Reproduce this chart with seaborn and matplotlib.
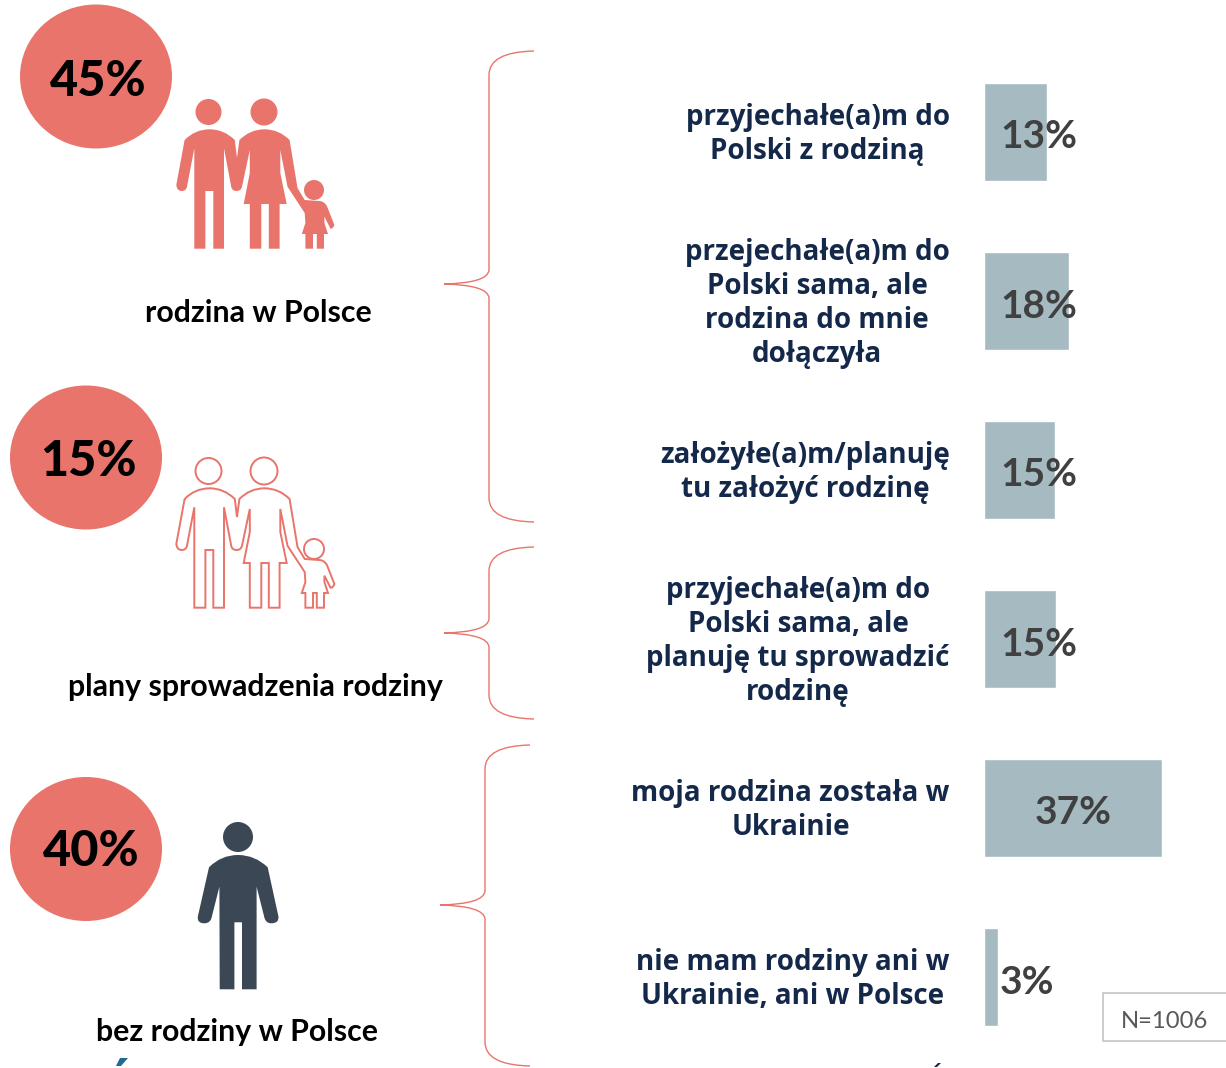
import seaborn as sns
import pandas as pd
from matplotlib import pyplot as plt
from matplotlib.patches import Ellipse, PathPatch, Rectangle, Polygon
from matplotlib.path import Path
from matplotlib.transforms import ScaledTranslation

answers = [
    "przyjechałe(a)m do\nPolski z rodziną",
    "przejechałe(a)m do\nPolski sama, ale\nrodzina do mnie\ndołączyła",
    "założyłe(a)m/planuję\ntu założyć rodzinę",
    "przyjechałe(a)m do\nPolski sama, ale\nplanuję tu sprowadzić\nrodzinę",
    "moja rodzina została w\nUkrainie",
    "nie mam rodziny ani w\nUkrainie, ani w Polsce",
]
bar_values = [13, 17.6, 14.7, 14.9, 37, 2.8]
bar_labels = ["13%", "18%", "15%", "15%", "37%", "3%"]
group_shares = ["45%", "15%", "40%"]
group_names = ["rodzina w Polsce", "plany sprowadzenia rodziny", "bez rodziny w Polsce"]
sample_note = "N=1006"

W, H = 1226, 1068
CORAL = "#e9746b"
FONT = "Lato"
LABEL_FONT = "Open Sans"

# outline of the family icon, pixels of the filled one; "c" marks a curved segment
family = [
    (184.6, 140), (176.3, 185), "c", (177, 191), (181.7, 191), "c", (186, 191), (187, 186.7),
    (194.3, 148.3), (194.3, 248.7), (205.4, 248.7), (205.4, 191), (213.3, 191),
    (213.3, 248.7), (224, 248.7), (224, 148.3), (231.2, 186.7), "c", (232, 191), (236.6, 191),
    "c", (241, 191), (242, 186.7), (249.8, 150), (249.8, 173), (243.7, 204), (249.8, 204),
    (249.8, 248.7), (261.3, 248.7), (261.3, 204), (268.8, 204), (268.8, 248.7),
    (279.6, 248.7), (279.6, 204), (286.7, 204), (280.3, 173), (280.3, 150), (287.5, 186.7),
    (304.7, 213), (305.4, 223), (301.8, 234), (305.4, 234), (305.4, 248.7), (313, 248.7),
    (313, 234), (316.8, 234), (316.8, 248.7), (324, 248.7), (324, 234), (328, 234),
    (324.4, 223), (324.4, 216.7), (330.5, 228.7), "c", (333, 229), (334.4, 225), (326.9, 206),
    "c", (324, 201), (319, 201), (304.7, 200), (297.5, 188), (289.6, 140),
    "c", (279, 129.3), (264.5, 129.3), "c", (250, 129.3), (239.4, 140), (237, 158), (234.8, 140),
    "c", (224, 129.3), (209.7, 129.3), "c", (195, 129.3), (184.6, 140),
]
family_heads = [(208.5, 112, 13), (264, 112, 13.5), (314, 190, 10)]

single = [
    (209, 867.3), (197.8, 916.7), "c", (197, 923.3), (204.3, 923.3), "c", (210, 923.3), (211.5, 918),
    (219.4, 886.7), (219.7, 989.3), (234.4, 989.3), (234.4, 922.3), (242, 922.3), (242, 989.3),
    (256.6, 989.3), (256.6, 886.7), (264.5, 918), "c", (266, 923.3), (271.3, 923.3),
    "c", (279, 923.3), (278.5, 916.7), (267.7, 867.3), "c", (255, 855), (238, 855),
    "c", (221, 855), (209, 867.3),
]


def icon_path(points, dy=0):
    verts, codes = [], []
    curve_next = False
    for p in points:
        if p == "c":
            curve_next = True
            continue
        verts.append((p[0], p[1] + dy))
        if not codes:
            codes.append(Path.MOVETO)
        elif curve_next or trailing_curves(codes) % 2 == 1:
            codes.append(Path.CURVE3)
            curve_next = False
        else:
            codes.append(Path.LINETO)
    return Path(verts, codes)


def trailing_curves(codes):
    n = 0
    for c in reversed(codes):
        if c != Path.CURVE3:
            break
        n += 1
    return n


def brace_path(x, top, mid, bottom, tip_x, end_x):
    return Path(
        [(end_x, top), (x, top + 1), (x, top + 24), (x, mid - 14), (x - 1, mid - 1), (tip_x, mid),
         (x - 1, mid + 1), (x, mid + 14), (x, bottom - 24), (x, bottom - 1), (end_x, bottom)],
        [Path.MOVETO, Path.CURVE3, Path.CURVE3, Path.LINETO, Path.CURVE3, Path.CURVE3,
         Path.CURVE3, Path.CURVE3, Path.LINETO, Path.CURVE3, Path.CURVE3],
    )


def main():
    sns.set_theme(style="white")
    plt.rcParams["font.family"] = [FONT, "DejaVu Sans"]

    fig = plt.figure(figsize=(W / 100, H / 100), dpi=100, facecolor="white")

    # bars: one category every 169 px, zero at x=985, 4.78 px per percent
    ax = fig.add_axes([984.5 / W, 1 - 1061.5 / H, 239.5 / W, (1062 - 48) / H])
    df = pd.DataFrame({"answer": answers, "value": bar_values})
    sns.barplot(data=df, y="answer", x="value", color="#a6bac2", saturation=1, width=0.574, ax=ax)
    ax.set_xlim(0, 50)
    ax.set_ylim(5.5, -0.5)
    ax.set_xlabel("")
    ax.set_ylabel("")
    ax.xaxis.set_visible(False)
    ax.tick_params(axis="y", length=0, pad=25)
    lift = ScaledTranslation(0, 0.035, fig.dpi_scale_trans)
    for label in ax.get_yticklabels():
        label.set_multialignment("center")
        label.set_family([LABEL_FONT, "DejaVu Sans"])
        label.set_fontsize(20)
        label.set_fontweight("bold")
        label.set_color("#14284a")
        label.set_linespacing(1.23)
        label.set_transform(label.get_transform() + lift)
    sns.despine(ax=ax, left=True, bottom=True)

    # overlay in image pixels for the icons, braces and free text
    over = fig.add_axes([0, 0, 1, 1], zorder=5)
    over.set_xlim(0, W)
    over.set_ylim(H, 0)
    over.axis("off")
    over.patch.set_alpha(0)

    label_x = [1039, 1039, 1039, 1039, 1073, 1027]
    label_y = [137, 306, 475, 644, 813, 982]
    for text, x, y in zip(bar_labels, label_x, label_y):
        over.text(x, y, text, ha="center", va="center", fontsize=28, fontweight="bold", color="#404040")

    circles = [(96, 76.5), (86, 457.5), (86, 849)]
    share_pos = [(98, 81), (88, 461), (91, 852)]
    for (cx, cy), (tx, ty), text in zip(circles, share_pos, group_shares):
        over.add_patch(Ellipse((cx, cy), 152, 144, color=CORAL, lw=0))
        over.text(tx, ty, text, ha="center", va="center", fontsize=35, fontweight="black", color="black")

    name_pos = [(258, 313), (255, 687), (237, 1032)]
    for (x, y), text in zip(name_pos, group_names):
        over.text(x, y, text, ha="center", va="center", fontsize=21.8, fontweight="bold", color="black")

    # filled family
    over.add_patch(PathPatch(icon_path(family), facecolor=CORAL, edgecolor="none"))
    for x, y, r in family_heads:
        over.add_patch(Ellipse((x, y), 2 * r, 2 * r, color=CORAL, lw=0))
    # outlined family, same shape lower down
    over.add_patch(PathPatch(icon_path(family, dy=359), facecolor="none", edgecolor=CORAL, lw=1.4))
    for x, y, r in family_heads:
        over.add_patch(Ellipse((x, y + 359), 2 * r, 2 * r, facecolor="white", edgecolor=CORAL, lw=1.4))
    # single person
    over.add_patch(PathPatch(icon_path(single), facecolor="#3b4754", edgecolor="none"))
    over.add_patch(Ellipse((238, 837), 30, 30, color="#3b4754", lw=0))

    for brace in [(489, 51, 284, 522, 444, 534), (489, 547, 633, 719, 444, 534), (485, 745, 905, 1066, 440, 530)]:
        over.add_patch(PathPatch(brace_path(*brace), facecolor="none", edgecolor=CORAL, lw=1))

    over.add_patch(Rectangle((1103, 993), 130, 48, facecolor="white", edgecolor="#c4c4c4", lw=1.2))
    over.text(1165, 1021, sample_note, ha="center", va="center", fontsize=17.2, color="#595959")

    # accents of the cropped line at the bottom edge
    over.add_patch(Polygon([(116, 1066), (120, 1058), (128, 1058), (121, 1066)], color="#1f6a94", lw=0))
    over.add_patch(Polygon([(934, 1067), (938, 1063), (941, 1063), (937, 1067)], color="#15294b", lw=0))

    fig.savefig("out.png", dpi=100)
    return 0


if __name__ == "__main__":
    raise SystemExit(main())
